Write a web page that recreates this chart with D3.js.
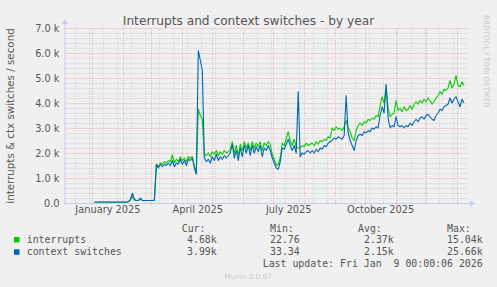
<!DOCTYPE html>
<html>
<head>
<meta charset="utf-8">
<script src="https://cdn.jsdelivr.net/npm/d3@7"></script>
<style>
  body { margin: 0; background: #f0f0f0; }
  svg { display: block; }
</style>
</head>
<body>
<div id="chart"></div>
<script>
// daily-ish samples (every 2 days from Jan 3 2025), values in thousands per second
var interrupts = [
  0.03,0.03,0.03,0.03,0.03,0.03,0.03,0.03,0.03,0.03,
  0.03,0.03,0.03,0.03,0.03,0.03,0.03,0.05,0.12,0.25,
  0.12,0.10,0.10,0.16,0.10,0.10,0.10,0.10,0.10,0.10,
  0.10,1.55,1.45,1.60,1.55,1.65,1.60,1.70,1.65,1.92,
  1.60,1.75,1.65,1.85,1.70,1.80,1.65,1.85,1.80,1.85,
  1.50,1.20,3.75,3.50,3.35,1.95,1.90,2.00,1.85,2.05,
  1.95,2.10,1.90,2.05,1.95,2.10,2.00,2.05,2.15,2.45,
  2.00,2.30,1.90,2.35,2.10,2.45,2.20,2.40,2.10,2.45,
  2.20,2.40,2.25,2.45,2.10,2.40,2.30,2.45,2.35,1.95,
  1.75,1.50,1.55,1.80,2.40,2.30,2.60,2.85,2.50,2.30,
  2.55,2.25,2.20,2.20,2.30,2.25,2.40,2.30,2.35,2.40,
  2.30,2.45,2.35,2.50,2.45,2.55,2.50,2.65,2.60,3.00,
  2.90,3.05,2.95,3.00,2.90,3.05,3.30,3.00,2.85,2.60,
  2.50,2.90,3.10,3.20,3.10,3.25,3.20,3.35,3.30,3.40,
  3.35,3.50,3.45,3.90,4.25,4.00,4.65,3.80,3.45,3.55,
  3.60,4.10,3.70,3.80,3.65,3.85,3.70,3.75,3.90,3.75,
  3.95,4.05,3.95,4.10,4.00,4.15,4.05,4.20,4.10,3.95,
  4.05,4.20,4.30,4.45,4.35,4.55,4.50,4.60,4.90,4.60,
  4.75,5.10,4.70,4.65,4.85,4.70
];
var ctxSwitches = [
  0.04,0.04,0.04,0.04,0.04,0.04,0.04,0.04,0.04,0.04,
  0.04,0.04,0.04,0.04,0.04,0.04,0.04,0.06,0.15,0.39,
  0.14,0.10,0.10,0.20,0.10,0.10,0.10,0.10,0.10,0.10,
  0.12,1.55,1.40,1.55,1.45,1.55,1.50,1.60,1.50,1.70,
  1.45,1.60,1.55,1.75,1.55,1.70,1.50,1.75,1.70,1.80,
  1.40,1.15,6.10,5.70,5.30,1.80,1.65,1.75,1.60,1.85,
  1.70,1.95,1.70,1.85,1.75,1.90,1.80,1.90,2.00,2.35,
  1.80,2.10,1.70,2.20,1.85,2.30,2.00,2.30,1.90,2.30,
  2.00,2.25,2.05,2.30,1.85,2.20,2.10,2.30,2.10,1.80,
  1.60,1.40,1.35,1.65,2.20,2.15,2.35,2.55,2.30,2.10,
  2.30,2.00,4.45,1.85,2.00,1.95,2.05,2.10,2.00,2.10,
  2.00,2.15,2.05,2.20,2.15,2.30,2.25,2.40,2.45,2.50,
  2.60,2.55,2.65,2.60,2.55,2.70,4.30,2.80,2.50,2.30,
  2.10,2.50,2.70,2.75,2.70,2.85,2.80,2.90,2.85,3.00,
  2.95,3.05,3.00,3.50,3.85,3.60,4.75,3.40,3.00,3.10,
  3.05,3.45,3.10,3.05,3.10,3.00,3.10,3.05,3.20,3.10,
  3.25,3.35,3.25,3.40,3.45,3.35,3.50,3.55,3.45,3.35,
  3.30,3.50,3.60,3.75,3.70,3.85,3.90,3.95,4.20,4.00,
  4.15,4.25,4.05,3.85,4.15,4.00
];
var yTicks = [0, 1, 2, 3, 4, 5, 6, 7];
var labelMonths = ["2025-01-01", "2025-04-01", "2025-07-01", "2025-10-01"];
var seriesNames = ["interrupts", "context switches"];
var seriesColors = ["#00cc00", "#0066b3"];
var curValues = ["4.68k", "3.99k"];
var minValues = ["22.76", "33.34"];
var avgValues = ["2.37k", "2.15k"];
var maxValues = ["15.04k", "25.66k"];

var W = 497, H = 287;
var plotL = 65.5, plotR = 465, plotT = 28, plotB = 203;

var svg = d3.select("#chart").append("svg")
    .attr("width", W)
    .attr("height", H)
    .style("font-family", "'DejaVu Sans', sans-serif");

svg.append("rect").attr("width", W).attr("height", H).attr("fill", "#f0f0f0");

var startTime = new Date(Date.UTC(2024, 11, 5));
var endTime = new Date(Date.UTC(2026, 0, 9));
var x = d3.scaleUtc().domain([startTime, endTime]).range([plotL, plotR]);
var y = d3.scaleLinear().domain([0, 7]).range([plotB, plotT]);

var firstDay = new Date(Date.UTC(2025, 0, 3));
var days = interrupts.map(function(d, i) { return d3.utcDay.offset(firstDay, 2 * i); });

var gridRight = plotR + 3;
var minorColor = "#d6d6d6", majorColor = "#eeb6b6";

// minor horizontal grid
svg.append("g").selectAll("line")
    .data(d3.range(0, 7.01, 0.2).filter(function(v) { return Math.abs(v - Math.round(v)) > 0.01; }))
  .enter().append("line")
    .attr("x1", plotL).attr("x2", gridRight)
    .attr("y1", function(d) { return Math.round(y(d)) + 0.5; })
    .attr("y2", function(d) { return Math.round(y(d)) + 0.5; })
    .attr("stroke", minorColor).attr("stroke-dasharray", "1,1");

// minor vertical grid (every other sunday)
var minorDays = d3.utcDay.range(new Date(Date.UTC(2024, 11, 15)), endTime, 14);
svg.append("g").selectAll("line")
    .data(minorDays)
  .enter().append("line")
    .attr("x1", function(d) { return Math.round(x(d)) + 0.5; })
    .attr("x2", function(d) { return Math.round(x(d)) + 0.5; })
    .attr("y1", plotT).attr("y2", plotB)
    .attr("stroke", minorColor).attr("stroke-dasharray", "1,1");

// major grid
svg.append("g").selectAll("line")
    .data(yTicks.slice(1))
  .enter().append("line")
    .attr("x1", plotL).attr("x2", gridRight)
    .attr("y1", function(d) { return Math.round(y(d)) + 0.5; })
    .attr("y2", function(d) { return Math.round(y(d)) + 0.5; })
    .attr("stroke", majorColor).attr("stroke-dasharray", "1,1");

svg.append("g").selectAll("line")
    .data(d3.utcMonth.range(startTime, endTime))
  .enter().append("line")
    .attr("x1", function(d) { return Math.round(x(d)) + 0.5; })
    .attr("x2", function(d) { return Math.round(x(d)) + 0.5; })
    .attr("y1", plotT).attr("y2", plotB + 2)
    .attr("stroke", majorColor).attr("stroke-dasharray", "1,1");

// axes labels
var yAxis = svg.append("g")
    .attr("transform", "translate(" + (plotL - 6) + ",0)")
    .call(d3.axisLeft(y).tickValues(yTicks).tickSize(0).tickPadding(0)
      .tickFormat(function(d) { return d === 0 ? "0.0" : d.toFixed(1) + " k"; }));
yAxis.select(".domain").remove();
yAxis.selectAll("text").attr("fill", "#555").style("font-size", "9.8px")
    .style("font-family", "'DejaVu Sans', sans-serif");

var xAxis = svg.append("g")
    .attr("transform", "translate(0," + (plotB + 3) + ")")
    .call(d3.axisBottom(x)
      .tickValues(labelMonths.map(function(m) { return d3.utcDay.offset(new Date(m + "T00:00:00Z"), 15); }))
      .tickSize(0).tickPadding(0)
      .tickFormat(d3.utcFormat("%B %Y")));
xAxis.select(".domain").remove();
xAxis.selectAll("text").attr("fill", "#555").style("font-size", "9.8px")
    .style("font-family", "'DejaVu Sans', sans-serif");

// series
var line = d3.line()
    .x(function(d, i) { return x(days[i]); })
    .y(function(d) { return y(d); });

[interrupts, ctxSwitches].forEach(function(s, k) {
  svg.append("path")
      .datum(s)
      .attr("d", line)
      .attr("fill", "none")
      .attr("stroke", seriesColors[k])
      .attr("stroke-width", 1.1)
      .attr("stroke-linejoin", "round");
});

// axis lines and arrows
var axisColor = "#c6cdf4";
svg.append("line").attr("x1", plotL - 0.5).attr("x2", plotL - 0.5).attr("y1", plotB + 2).attr("y2", plotT - 4)
    .attr("stroke", axisColor);
svg.append("line").attr("x1", plotL - 2).attr("x2", plotR + 5).attr("y1", plotB + 0.5).attr("y2", plotB + 0.5)
    .attr("stroke", axisColor);
svg.append("path")
    .attr("d", "M" + (plotL - 3.5) + "," + (plotT - 4) + "L" + (plotL + 2.5) + "," + (plotT - 4) + "L" + (plotL - 0.5) + "," + (plotT - 9) + "Z")
    .attr("fill", axisColor);
svg.append("path")
    .attr("d", "M" + (plotR + 5) + "," + (plotB - 2.5) + "L" + (plotR + 5) + "," + (plotB + 3.5) + "L" + (plotR + 10) + "," + (plotB + 0.5) + "Z")
    .attr("fill", axisColor);

// title
svg.append("text")
    .attr("x", 248.5).attr("y", 24.5)
    .attr("text-anchor", "middle")
    .attr("fill", "#555")
    .style("font-size", "12.2px")
    .text("Interrupts and context switches - by year");

// vertical label
svg.append("text")
    .attr("transform", "translate(13.5,116) rotate(-90)")
    .attr("text-anchor", "middle")
    .attr("fill", "#555")
    .style("font-size", "10.3px")
    .text("interrupts & ctx switches / second");

// watermark
svg.append("text")
    .attr("transform", "translate(483.5,15) rotate(90)")
    .attr("fill", "#c8c8c8")
    .style("font-size", "7.2px")
    .text("RRDTOOL / TOBI OETIKER");

// legend
var mono = "'DejaVu Sans Mono', monospace";
var legend = svg.append("g").style("font-family", mono).style("font-size", "9.9px").attr("fill", "#555");

[["Cur:", 181.7], ["Min:", 270], ["Avg:", 358], ["Max:", 447]].forEach(function(h) {
  legend.append("text").attr("x", h[1]).attr("y", 231.5).text(h[0]);
});

seriesNames.forEach(function(name, k) {
  var yy = 243 + k * 12.3;
  legend.append("rect").attr("x", 14).attr("y", yy - 6).attr("width", 5.5).attr("height", 5.5)
      .attr("fill", seriesColors[k]);
  legend.append("text").attr("x", 26.7).attr("y", yy).text(name);
  legend.append("text").attr("x", 187).attr("y", yy).text(curValues[k]);
  legend.append("text").attr("x", 270).attr("y", yy).text(minValues[k]);
  legend.append("text").attr("x", 364).attr("y", yy).text(avgValues[k]);
  legend.append("text").attr("x", 447).attr("y", yy).text(maxValues[k]);
});

legend.append("text").attr("x", 482.7).attr("y", 267.3).attr("text-anchor", "end")
    .attr("xml:space", "preserve").style("white-space", "pre")
    .text("Last update: Fri Jan  9 00:00:06 2026");

svg.append("text")
    .attr("x", 248).attr("y", 279)
    .attr("text-anchor", "middle")
    .attr("fill", "#cccccc")
    .style("font-size", "7.3px")
    .text("Munin 2.0.67");
</script>
</body>
</html>
